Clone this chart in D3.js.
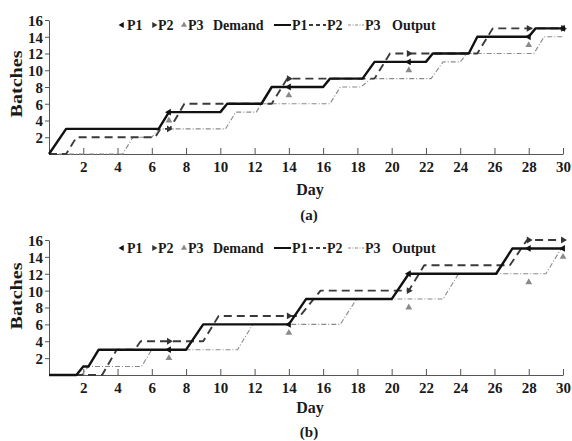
<!DOCTYPE html>
<html>
<head>
<meta charset="utf-8">
<script src="https://cdn.jsdelivr.net/npm/d3@7"></script>
<style>
  body { margin: 0; background: #fff; }
  svg text { font-family: "Liberation Serif", "Times New Roman", serif; font-weight: bold; fill: #1a1a1a; }
</style>
</head>
<body>
<div id="chart"></div>
<script>
// tick labels
const xTicks = [2, 4, 6, 8, 10, 12, 14, 16, 18, 20, 22, 24, 26, 28, 30];
const yTicks = [2, 4, 6, 8, 10, 12, 14, 16];

// (a) output curves, [day, batches]
const outA_P1 = [[0,0],[1,3],[6.4,3],[7,5],[10,5],[10.4,6],[12.4,6],[13,8],[16,8],[16.4,9],[18.3,9],[19,11],[22,11],[22.4,12],[24.5,12],[25,14],[28,14],[28.4,15],[30,15]];
const outA_P2 = [[0,0],[1,0],[1.6,2],[6.2,2],[6.5,3],[7.05,3],[7.9,6],[13,6],[13.9,9],[19,9],[19.9,12],[25,12],[25.9,15],[30,15]];
const outA_P3 = [[0,0],[4.3,0],[4.9,2],[6,2],[6.4,3],[10.3,3],[10.9,5],[12.1,5],[12.4,6],[16.4,6],[17,8],[18.2,8],[18.8,9],[22.3,9],[23,11],[24,11],[24.4,12],[28.3,12],[28.9,14],[30,14]];
// (a) demand
const demA_P1 = [[7,5],[14,8],[21,11],[28,14],[30,15]];
const demA_P2 = [[7,3],[14,9],[21,12],[28,15],[30,15]];
const demA_P3 = [[7,4],[14,7],[21,10],[28,13],[30,15]];

// (b) output curves
const outB_P1 = [[0,0],[1.6,0],[2,1],[2.3,1],[2.9,3],[8,3],[9,6],[14,6],[15,9],[20,9],[21,12],[26.1,12],[27.05,15],[30,15]];
const outB_P2 = [[0,0],[3.1,0],[3.95,3],[5,3],[5.35,4],[9,4],[9.9,7],[14.65,7],[15.85,10],[21,10],[21.9,13],[26.9,13],[27.9,16],[30,16]];
const outB_P3 = [[0,0],[1.9,0],[2.3,1],[5.4,1],[6,3],[11,3],[11.9,6],[17,6],[17.95,9],[23,9],[23.9,12],[29,12],[29.9,15],[30,15]];
// (b) demand
const demB_P1 = [[7,3],[14,6],[21,12],[28,15],[30,15]];
const demB_P2 = [[7,4],[14,7],[21,10],[28,16],[30,16]];
const demB_P3 = [[7,2],[14,5],[21,8],[28,11],[30,14]];

const W = 572, H = 441;
const svg = d3.select("#chart").append("svg").attr("width", W).attr("height", H);

const styles = {
  P1: { color: "#111", width: 2.4, dash: null },
  P2: { color: "#3a3a3a", width: 1.9, dash: "8,5" },
  P3: { color: "#8a8a8a", width: 1.1, dash: "5,2,1,2" }
};
const markerRot = { P1: -90, P2: 90, P3: 0 };
const markerCol = { P1: "#111", P2: "#333", P3: "#8a8a8a" };

function panel(cfg) {
  const x = d3.scaleLinear().domain([0, 30]).range([49, 563]);
  const y = d3.scaleLinear().domain([0, 16]).range([cfg.y0, cfg.y16]);
  const g = svg.append("g");

  // axes
  const xa = g.append("g").attr("transform", `translate(0,${cfg.y0})`)
    .call(d3.axisBottom(x).tickValues(xTicks).tickSize(-6).tickSizeOuter(0).tickPadding(7));
  const ya = g.append("g").attr("transform", "translate(49,0)")
    .call(d3.axisLeft(y).tickValues(yTicks).tickSize(4).tickSizeOuter(0).tickPadding(2));
  [xa, ya].forEach(a => {
    a.select(".domain").attr("stroke", "#555");
    a.selectAll(".tick line").attr("stroke", "#555");
    a.selectAll("text").style("font-size", "15px").attr("fill", "#1a1a1a");
  });
  ya.selectAll("text").attr("dy", "0.36em");

  // output lines
  const line = d3.line().x(d => x(d[0])).y(d => y(d[1]));
  ["P3", "P2", "P1"].forEach(k => {
    const s = styles[k];
    g.append("path").datum(cfg.out[k])
      .attr("d", line)
      .attr("fill", "none")
      .attr("stroke", s.color)
      .attr("stroke-width", s.width)
      .attr("stroke-dasharray", s.dash)
      .attr("stroke-linejoin", "round");
  });

  // demand markers
  ["P3", "P2", "P1"].forEach(k => {
    g.selectAll(null).data(cfg.dem[k]).enter().append("path")
      .attr("d", d3.symbol(d3.symbolTriangle, 20))
      .attr("transform", d => `translate(${x(d[0])},${y(d[1])}) rotate(${markerRot[k]})`)
      .attr("fill", markerCol[k]);
  });

  // legend
  const ly = cfg.legendY;
  const leg = g.append("g").style("font-size", "14px");
  [["P1", 122, 127], ["P2", 154, 158], ["P3", 184, 188]].forEach(([k, mx, tx]) => {
    leg.append("path").attr("d", d3.symbol(d3.symbolTriangle, 16))
      .attr("transform", `translate(${mx},${ly - 5}) rotate(${markerRot[k]})`)
      .attr("fill", markerCol[k]);
    leg.append("text").attr("x", tx).attr("y", ly).text(k);
  });
  leg.append("text").attr("x", 213).attr("y", ly).text("Demand");
  [["P1", 274, 291, 292], ["P2", 309, 326, 327], ["P3", 348, 364, 365]].forEach(([k, a, b, tx]) => {
    const s = styles[k];
    leg.append("line").attr("x1", a).attr("x2", b).attr("y1", ly - 5).attr("y2", ly - 5)
      .attr("stroke", s.color).attr("stroke-width", k === "P1" ? 2 : s.width)
      .attr("stroke-dasharray", k === "P2" ? "4,3" : (k === "P3" ? "3,1.5,1,1.5" : null));
    leg.append("text").attr("x", tx).attr("y", ly).text(k);
  });
  leg.append("text").attr("x", 392).attr("y", ly).text("Output");

  // axis titles
  g.append("text").attr("x", 310).attr("y", cfg.dayY).attr("text-anchor", "middle")
    .style("font-size", "16px").text("Day");
  g.append("text").attr("x", 309).attr("y", cfg.capY).attr("text-anchor", "middle")
    .style("font-size", "15px").text(cfg.label);
  g.append("text")
    .attr("transform", `translate(22,${cfg.batchesY}) rotate(-90)`)
    .attr("text-anchor", "middle")
    .attr("textLength", 67).attr("lengthAdjust", "spacingAndGlyphs")
    .style("font-size", "16px").text("Batches");
}

panel({ y0: 154, y16: 20, legendY: 30, dayY: 195, capY: 220, label: "(a)", batchesY: 84,
  out: { P1: outA_P1, P2: outA_P2, P3: outA_P3 }, dem: { P1: demA_P1, P2: demA_P2, P3: demA_P3 } });
panel({ y0: 375, y16: 240, legendY: 253, dayY: 413, capY: 437, label: "(b)", batchesY: 296,
  out: { P1: outB_P1, P2: outB_P2, P3: outB_P3 }, dem: { P1: demB_P1, P2: demB_P2, P3: demB_P3 } });
</script>
</body>
</html>
